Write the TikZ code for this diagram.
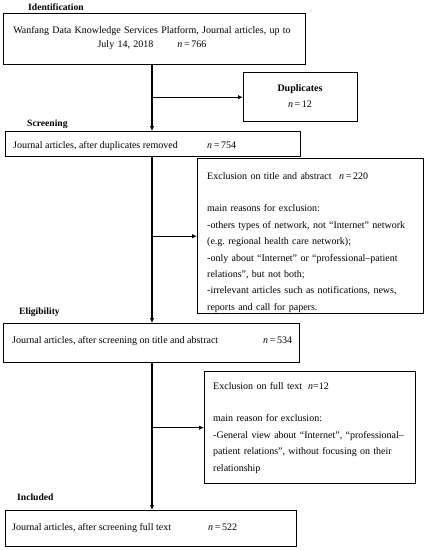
\documentclass[tikz,border=0pt]{standalone}
\usepackage{fontspec}
\setmainfont{Liberation Serif}
\usetikzlibrary{arrows.meta}
\begin{document}
\begin{tikzpicture}[x=1pt,y=-1pt,
  box/.style={draw,line width=1.4pt,inner sep=0pt,anchor=north west},
  txt/.style={inner sep=0pt,anchor=base west,font=\fontsize{10}{16.4}\selectfont},
  ctxt/.style={inner sep=0pt,anchor=base,align=center},
  mtxt/.style={inner sep=0pt,anchor=base west,text width=240pt,align=left,font=\fontsize{10}{16.4}\selectfont},
  ttl/.style={inner sep=0pt,anchor=base west,font=\fontsize{9.6}{11}\selectfont\bfseries},
  arr/.style={line width=1.1pt,-{Latex[length=5pt,width=4.5pt]}}]
\useasboundingbox (0,0) rectangle (427,550);
% boxes
\node[box,minimum width=302pt,minimum height=51pt] (ident) at (3,13) {};
\node[box,minimum width=114pt,minimum height=49pt] (dup) at (243,72) {};
\node[box,minimum width=295pt,minimum height=25pt] (scr) at (5,131) {};
\node[box,minimum width=226pt,minimum height=155pt] (ex1) at (197,158) {};
\node[box,minimum width=296pt,minimum height=39pt] (elig) at (3,323) {};
\node[box,minimum width=211pt,minimum height=112pt] (ex2) at (204,371) {};
\node[box,minimum width=291pt,minimum height=36pt] (incl) at (5,510) {};
% stage labels
\node[ttl] (lid) at (28,10.5) {Identification};
\node[ttl] (lsc) at (27,126) {Screening};
\node[ttl] (lel) at (19,314) {Eligibility};
\node[ttl] (lin) at (17,500) {Included};
% texts
\node[ctxt,text width=300pt,font=\fontsize{10}{14.5}\selectfont] (tid) at (152,33)
  {Wanfang Data Knowledge Services Platform, Journal articles, up to\\
   July 14, 2018\hspace{24pt}\textit{n}\,=\,766};
\node[ctxt,text width=100pt,font=\fontsize{10}{16}\selectfont] (tdup) at (300,91)
  {\textbf{Duplicates}\\\textit{n}\,=\,12};
\node[txt] (tscr) at (13,148)
  {\makebox[194pt][l]{Journal articles, after duplicates removed}\textit{n}\,=\,754};
\node[mtxt] (tex1) at (207,179)
  {\makebox[132pt][l]{Exclusion on title and abstract}\textit{n}\,=\,220\\[16.4pt]
   main reasons for exclusion:\\
   -others types of network, not “Internet” network\\
   (e.g.\ regional health care network);\\
   -only about “Internet” or “professional–patient\\
   relations”, but not both;\\
   -irrelevant articles such as notifications, news,\\
   reports and call for papers.};
\node[txt] (tel) at (12,343)
  {\makebox[251pt][l]{Journal articles, after screening on title and abstract}\textit{n}\,=\,534};
\node[mtxt] (tex2) at (213,389)
  {\makebox[95pt][l]{Exclusion on full text}\textit{n}=12\\[16.4pt]
   main reason for exclusion:\\
   -General view about “Internet”, “professional–\\
   patient relations”, without focusing on their\\
   relationship};
\node[txt] (tin) at (12,530)
  {\makebox[196pt][l]{Journal articles, after screening full text}\textit{n}\,=\,522};
% connectors
\coordinate (sp) at (152,0);
\draw[arr] (ident.south -| sp) -- (scr.north -| sp);
\draw[arr] (sp |- dup.west) -- (dup.west);
\draw[arr] (scr.south -| sp) -- (elig.north -| sp);
\draw[arr] (sp |- ex1.west) -- (ex1.west);
\draw[arr] (elig.south -| sp) -- (incl.north -| sp);
\draw[arr] (sp |- ex2.west) -- (ex2.west);
\end{tikzpicture}
\end{document}
